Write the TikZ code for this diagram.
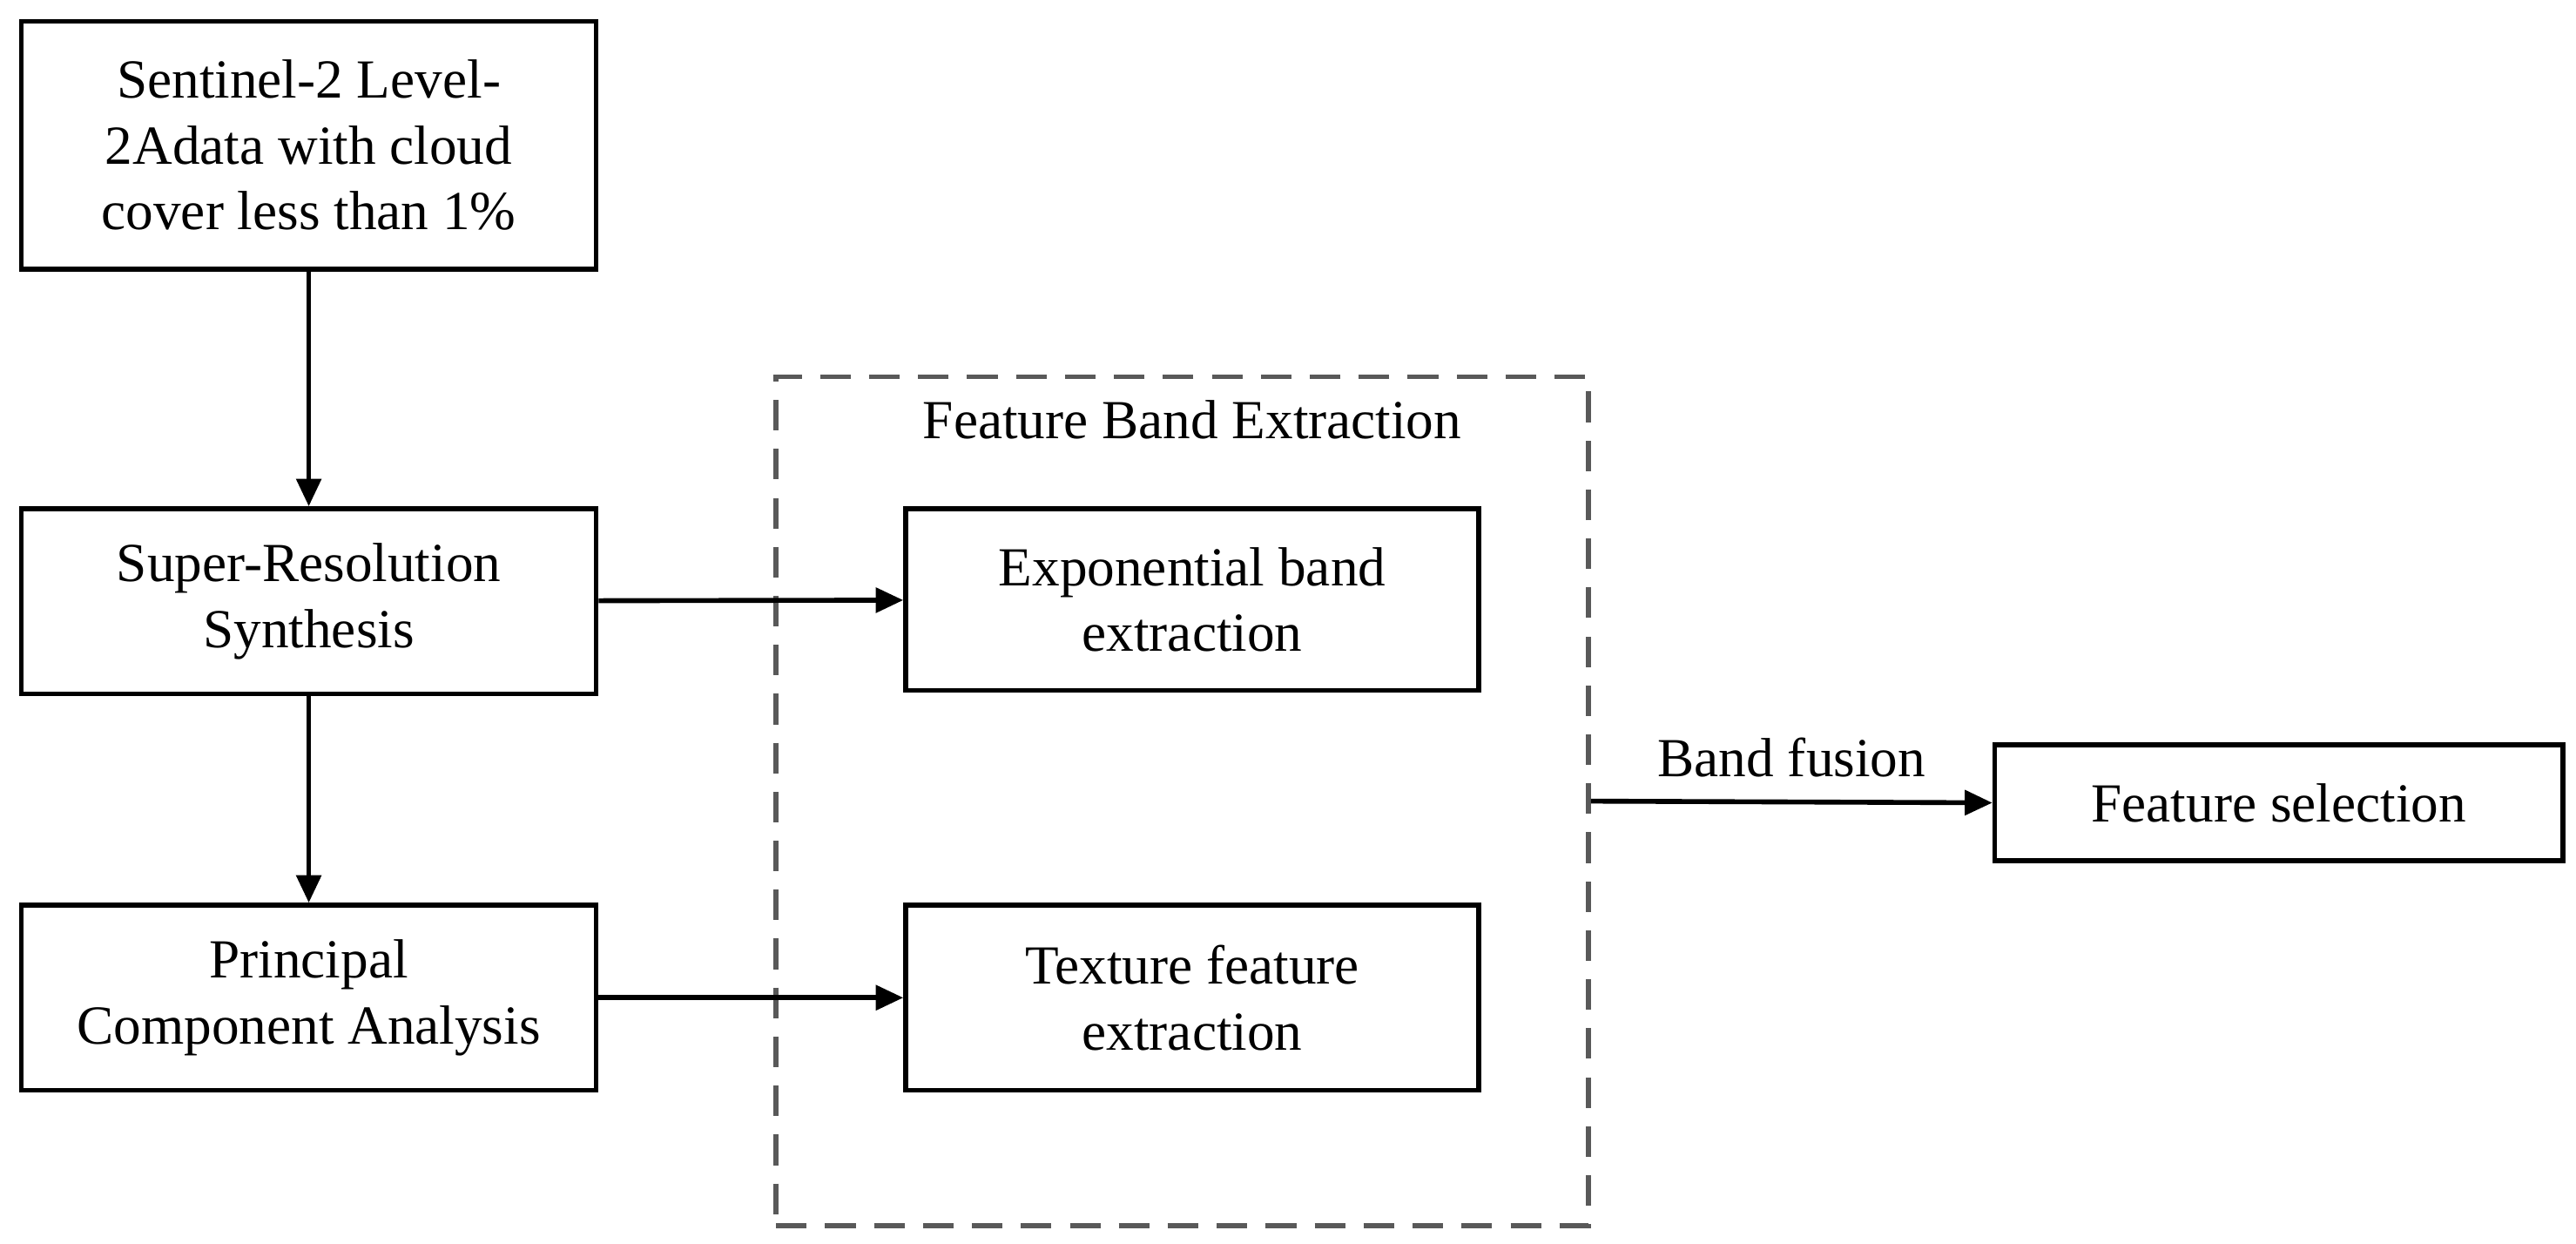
\documentclass[tikz,border=0pt]{standalone}
\usepackage{fontspec}
\setmainfont{Liberation Serif}
\usetikzlibrary{arrows.meta}
\tikzset{
	box/.style={draw, line width=1.6pt, align=center, inner sep=0pt, font=\fontsize{18}{21.5}\selectfont},
	flow/.style={-{Triangle[length=9pt,width=8pt]}, line width=1.6pt}
}
\begin{document}
\begin{tikzpicture}[x=0.01896cm, y=-0.01896cm]
	\useasboundingbox (0,0) rectangle (1560,753);
	% Boxes
	\node[box, minimum width=348*0.01896cm, minimum height=150*0.01896cm] (sen) at (187,88) {Sentinel-2 Level-\\2Adata with cloud\\cover less than 1\%};
	\node[box, minimum width=348*0.01896cm, minimum height=112*0.01896cm] (sr) at (187,364) {Super-Resolution\\Synthesis};
	\node[box, minimum width=348*0.01896cm, minimum height=112*0.01896cm] (pca) at (187,604) {Principal\\Component Analysis};
	\node[box, minimum width=347*0.01896cm, minimum height=110*0.01896cm] (exp) at (722,363) {Exponential band\\extraction};
	\node[box, minimum width=347*0.01896cm, minimum height=112*0.01896cm] (tex) at (722,604) {Texture feature\\extraction};
	\node[box, minimum width=344*0.01896cm, minimum height=70*0.01896cm] (sel) at (1380,486) {Feature selection};

	% Dashed group
	\node[draw=gray!70!black, dashed, dash pattern=on 10pt off 6pt, line width=1.6pt, minimum width=492*0.01896cm, minimum height=514*0.01896cm, inner sep=0pt] (fbe) at (716,485) {};
	\node[font=\fontsize{18}{21.5}\selectfont] (fbel) at (722,254) {Feature Band Extraction};

	% Connectors
	\draw[flow] (sen) -- (sr);
	\draw[flow] (sr) -- (pca);
	\draw[flow] (sr) -- (exp);
	\draw[flow] (pca) -- (tex);
	\draw[flow] (fbe.east) -- (sel.west) node[midway, above=4pt, font=\fontsize{18}{21.5}\selectfont] {Band fusion};
\end{tikzpicture}
\end{document}
